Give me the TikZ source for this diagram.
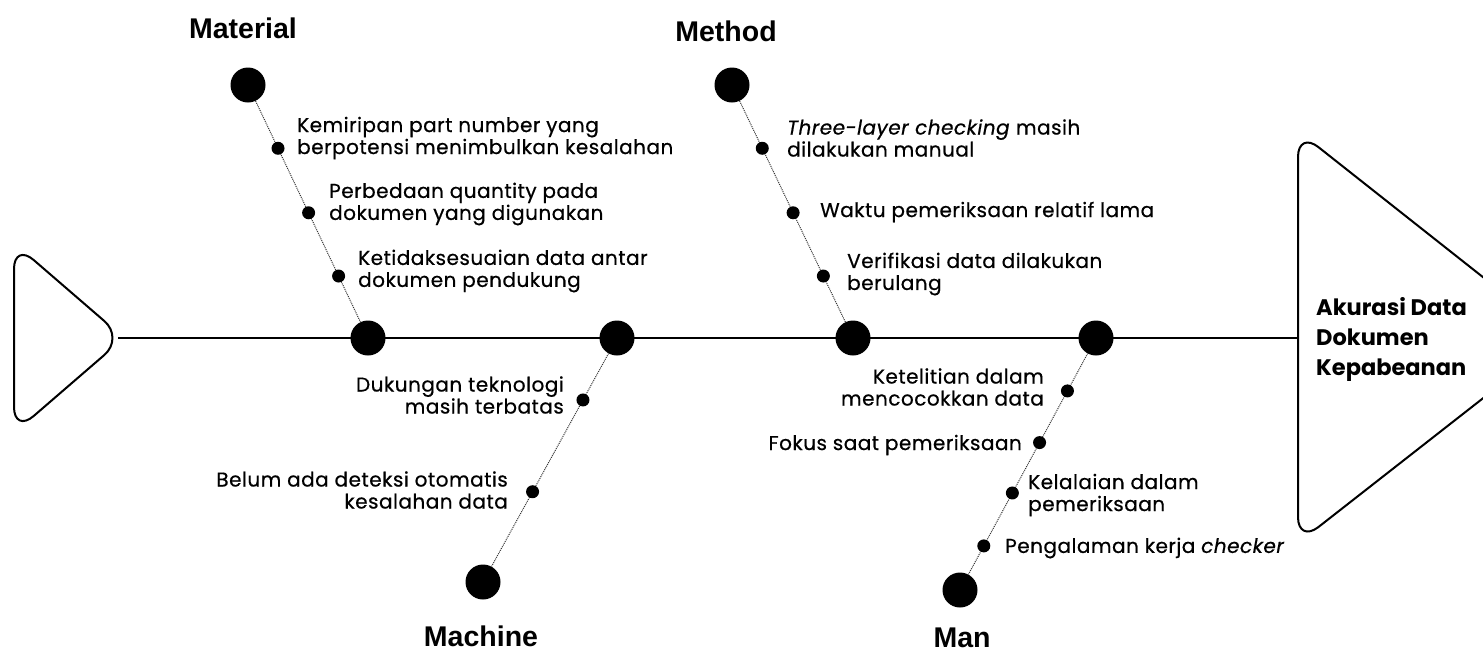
\documentclass[tikz,border=0pt]{standalone}
\usepackage{fontspec}
\setmainfont{Poppins}
\newfontfamily\itemfont{Poppins}[FakeBold=0.6,LetterSpace=2.5]
\newfontfamily\catfont{Liberation Sans}
\usetikzlibrary{calc}
\begin{document}
\begin{tikzpicture}[x=1pt,y=-1pt,
 bigdot/.style={circle,fill=black,minimum size=35pt,inner sep=0pt},
 smalldot/.style={circle,fill=black,minimum size=13pt,inner sep=0pt},
 bone/.style={densely dotted,line width=1pt,black!80},
 spine/.style={line width=2.5pt},
 outline/.style={line width=2pt,rounded corners=26pt},
 item/.style={font=\itemfont\fontsize{20}{22}\selectfont,inner sep=0pt},
 cat/.style={font=\catfont\bfseries\fontsize{28.5}{30}\selectfont,inner sep=0pt},
 headtxt/.style={font=\bfseries\fontsize{22.5}{30}\selectfont,align=left,inner sep=0pt}]
\useasboundingbox (0,0) rectangle (1483,657);
\clip (0,0) rectangle (1483,657);
% tail and head
\draw[outline] (14,243) -- (124,338) -- (14,433) -- cycle;
\draw[outline] (1298,131) -- (1560,338) -- (1298,543) -- cycle;
\coordinate (tailtip) at (118,338);
\coordinate (headl) at (1298,338);
\draw[spine] (tailtip) -- (headl);
% spine circles and bone ends
\node[bigdot] (s1) at (368,338) {};
\node[bigdot] (s2) at (617,338) {};
\node[bigdot] (s3) at (853,338) {};
\node[bigdot] (s4) at (1096,338) {};
\node[bigdot] (mat) at (248,85) {};
\node[bigdot] (met) at (732,85) {};
\node[bigdot] (mac) at (483,582) {};
\node[bigdot] (man) at (960,590) {};
% bones
\draw[bone] (mat) -- (s1);
\draw[bone] (met) -- (s3);
\draw[bone] (s2) -- (mac);
\draw[bone] (s4) -- (man);
% small dots
\node[smalldot] (a1) at ($(mat)!0.25!(s1)$) {};
\node[smalldot] (a2) at ($(mat)!0.505!(s1)$) {};
\node[smalldot] (a3) at ($(mat)!0.755!(s1)$) {};
\node[smalldot] (b1) at ($(met)!0.25!(s3)$) {};
\node[smalldot] (b2) at ($(met)!0.505!(s3)$) {};
\node[smalldot] (b3) at ($(met)!0.755!(s3)$) {};
\node[smalldot] (c1) at ($(s2)!0.254!(mac)$) {};
\node[smalldot] (c2) at ($(s2)!0.63!(mac)$) {};
\node[smalldot] (d1) at ($(s4)!0.21!(man)$) {};
\node[smalldot] (d2) at ($(s4)!0.415!(man)$) {};
\node[smalldot] (d3) at ($(s4)!0.615!(man)$) {};
\node[smalldot] (d4) at ($(s4)!0.825!(man)$) {};
% category labels
\node[cat] (lmat) at (243,28) {Material};
\node[cat] (lmet) at (726,31) {Method};
\node[cat] (lmac) at (481,636) {Machine};
\node[cat] (lman) at (962,638) {Man};
% items
\node[item,anchor=west,align=left] (ta1) at (297,138) {Kemiripan part number yang\\berpotensi menimbulkan kesalahan};
\node[item,anchor=west,align=left] (ta2) at (329,204) {Perbedaan quantity pada\\dokumen yang digunakan};
\node[item,anchor=west,align=left] (ta3) at (358,271) {Ketidaksesuaian data antar\\dokumen pendukung};
\node[item,anchor=west,align=left] (tb1) at (787,138) {\textit{Three-layer checking} masih\\dilakukan manual};
\node[item,anchor=west] (tb2) at (820,212) {Waktu pemeriksaan relatif lama};
\node[item,anchor=west,align=left] (tb3) at (847,274) {Verifikasi data dilakukan\\berulang};
\node[item,anchor=east,align=right] (tc1) at (564,395) {Dukungan teknologi\\masih terbatas};
\node[item,anchor=east,align=right] (tc2) at (508,490) {Belum ada deteksi otomatis\\kesalahan data};
\node[item,anchor=east,align=right] (td1) at (1044,387) {Ketelitian dalam\\mencocokkan data};
\node[item,anchor=east] (td2) at (1022,445) {Fokus saat pemeriksaan};
\node[item,anchor=west,align=left] (td3) at (1028,495) {Kelalaian dalam\\pemeriksaan};
\node[item,anchor=west] (td4) at (1005,548) {Pengalaman kerja \textit{checker}};
% head text
\node[headtxt,anchor=west] (head) at (1316,339) {Akurasi Data\\Dokumen\\Kepabeanan};
\end{tikzpicture}
\end{document}
